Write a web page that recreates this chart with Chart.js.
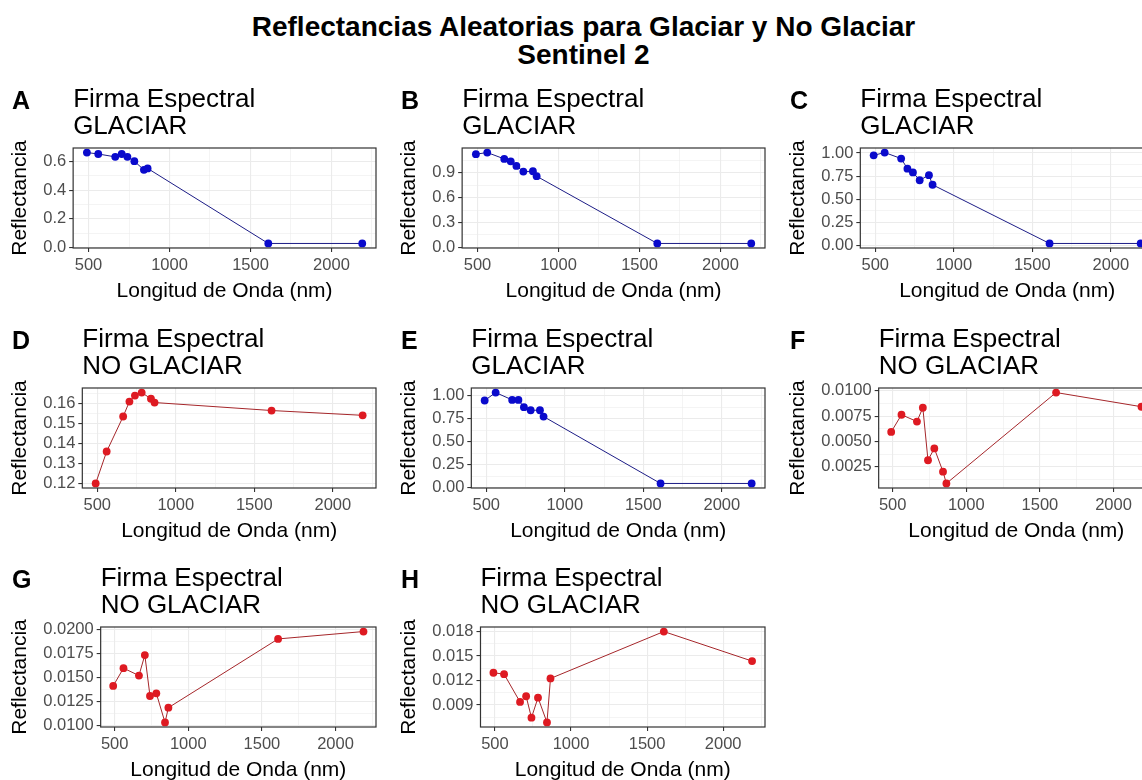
<!DOCTYPE html>
<html>
<head>
<meta charset="utf-8">
<title>Reflectancias Aleatorias</title>
<script src="https://cdn.jsdelivr.net/npm/chart.js@4.4.1/dist/chart.umd.min.js"></script>
<style>
    body { margin: 0; background: #fff; }
    #fig {
        position: relative; width: 1142px; height: 780px; overflow: hidden;
        background: #fff; font-family: "Liberation Sans", Arial, sans-serif;
    }
    #main-title {
        position: absolute; left: 0; top: 13px; width: 1167px;
        text-align: center; font-weight: bold; font-size: 28px; line-height: 28px; color: #000;
    }
    .cell { position: absolute; width: 389px; height: 240px; }
</style>
</head>
<body>
<div id="fig">
    <div id="main-title">Reflectancias Aleatorias para Glaciar y No Glaciar<br>Sentinel 2</div>
</div>
<script>
// Sentinel 2 band centres (nm)
var wavelengths = [490, 560, 665, 705, 740, 783, 842, 865, 1610, 2190];

// Reflectance of each random sample
var reflA = [0.66, 0.65, 0.63, 0.65, 0.63, 0.60, 0.54, 0.55, 0.03, 0.03];
var reflB = [1.127, 1.147, 1.07, 1.04, 0.985, 0.916, 0.92, 0.86, 0.045, 0.045];
var reflC = [0.975, 1.005, 0.94, 0.83, 0.79, 0.705, 0.76, 0.656, 0.02, 0.02];
var reflD = [0.12, 0.136, 0.1535, 0.161, 0.164, 0.1655, 0.1624, 0.1605, 0.1565, 0.1541];
var reflE = [0.949, 1.036, 0.956, 0.956, 0.876, 0.843, 0.843, 0.774, 0.044, 0.044];
var reflF = [0.00595, 0.00765, 0.00698, 0.00834, 0.00316, 0.00433, 0.00203, 0.00087, 0.00984, 0.00844];
var reflG = [0.01409, 0.01594, 0.01517, 0.01731, 0.01304, 0.01332, 0.01028, 0.01182, 0.01899, 0.01976];
var reflH = [0.01295, 0.01278, 0.00937, 0.01007, 0.00744, 0.0099, 0.00686, 0.01225, 0.018, 0.01438];

// Class of each sample
var classes = ['GLACIAR', 'GLACIAR', 'GLACIAR', 'NO GLACIAR', 'GLACIAR', 'NO GLACIAR', 'NO GLACIAR', 'NO GLACIAR'];
var tags = ['A', 'B', 'C', 'D', 'E', 'F', 'G', 'H'];

// Axis ticks
var xTicks = [500, 1000, 1500, 2000];
var xTickLabels = ['500', '1000', '1500', '2000'];

var yTicksA = [0, 0.2, 0.4, 0.6];
var yLabelsA = ['0.0', '0.2', '0.4', '0.6'];
var yTicksB = [0, 0.3, 0.6, 0.9];
var yLabelsB = ['0.0', '0.3', '0.6', '0.9'];
var yTicksC = [0, 0.25, 0.5, 0.75, 1];
var yLabelsC = ['0.00', '0.25', '0.50', '0.75', '1.00'];
var yTicksD = [0.12, 0.13, 0.14, 0.15, 0.16];
var yLabelsD = ['0.12', '0.13', '0.14', '0.15', '0.16'];
var yTicksE = [0, 0.25, 0.5, 0.75, 1];
var yLabelsE = ['0.00', '0.25', '0.50', '0.75', '1.00'];
var yTicksF = [0.0025, 0.005, 0.0075, 0.01];
var yLabelsF = ['0.0025', '0.0050', '0.0075', '0.0100'];
var yTicksG = [0.01, 0.0125, 0.015, 0.0175, 0.02];
var yLabelsG = ['0.0100', '0.0125', '0.0150', '0.0175', '0.0200'];
var yTicksH = [0.009, 0.012, 0.015, 0.018];
var yLabelsH = ['0.009', '0.012', '0.015', '0.018'];

var values = [reflA, reflB, reflC, reflD, reflE, reflF, reflG, reflH];
var yTicks = [yTicksA, yTicksB, yTicksC, yTicksD, yTicksE, yTicksF, yTicksG, yTicksH];
var yLabels = [yLabelsA, yLabelsB, yLabelsC, yLabelsD, yLabelsE, yLabelsF, yLabelsG, yLabelsH];

var styles = {
    'GLACIAR': { line: '#1c1c86', point: '#0a0acc' },
    'NO GLACIAR': { line: '#a5262a', point: '#de1a22' }
};

var FONT = '"Liberation Sans", Arial, sans-serif';

// ggplot-like 5% expansion
function expand(lo, hi) {
    var pad = (hi - lo) * 0.05;
    return [lo - pad, hi + pad];
}

// major ticks carry a label, minor ones (half way) only a grid line
function tickList(majors, labels, lo, hi) {
    var step = majors[1] - majors[0];
    var out = [];
    majors.forEach(function (v, i) {
        out.push({ value: v, lab: labels[i] });
    });
    var minors = [majors[0] - step / 2];
    majors.forEach(function (v) { minors.push(v + step / 2); });
    minors.forEach(function (v) { out.push({ value: v, lab: '' }); });
    out = out.filter(function (t) { return t.value >= lo && t.value <= hi; });
    out.sort(function (a, b) { return a.value - b.value; });
    return out;
}

// tag, two line title and the panel frame
var panelDecor = {
    id: 'panelDecor',
    afterDraw: function (chart, args, opts) {
        var ctx = chart.ctx;
        var area = chart.chartArea;
        ctx.save();
        ctx.strokeStyle = '#333333';
        ctx.lineWidth = 1.2;
        ctx.strokeRect(area.left, area.top, area.right - area.left, area.bottom - area.top);
        ctx.fillStyle = '#000';
        ctx.textBaseline = 'alphabetic';
        ctx.textAlign = 'left';
        ctx.font = 'bold 25px ' + FONT;
        ctx.fillText(opts.tag, 12, 39);
        ctx.font = '26px ' + FONT;
        ctx.fillText(opts.lines[0], area.left, 37);
        ctx.fillText(opts.lines[1], area.left, 64);
        ctx.restore();
    }
};

var fig = document.getElementById('fig');

for (var i = 0; i < values.length; i++) {
    var col = i % 3;
    var row = Math.floor(i / 3);
    var cell = document.createElement('div');
    cell.className = 'cell';
    cell.style.left = (col * 389) + 'px';
    cell.style.top = (70 + row * 239.5) + 'px';
    var canvas = document.createElement('canvas');
    canvas.width = 389;
    canvas.height = 240;
    cell.appendChild(canvas);
    fig.appendChild(cell);

    var vals = values[i];
    var yr = expand(Math.min.apply(null, vals), Math.max.apply(null, vals));
    var xr = expand(wavelengths[0], wavelengths[wavelengths.length - 1]);
    var style = styles[classes[i]];

    var points = wavelengths.map(function (w, k) {
        return { x: w, y: vals[k] };
    });

    (function (yT, yL, yr, xr) {
        new Chart(canvas.getContext('2d'), {
            type: 'line',
            data: {
                datasets: [{
                    data: points,
                    borderColor: style.line,
                    borderWidth: 1,
                    pointRadius: 3.9,
                    pointBackgroundColor: style.point,
                    pointBorderWidth: 0,
                    tension: 0
                }]
            },
            options: {
                responsive: false,
                animation: false,
                layout: { padding: { left: 8, right: 13, top: 78, bottom: 0 } },
                plugins: {
                    legend: { display: false },
                    tooltip: { enabled: false },
                    panelDecor: { tag: tags[i], lines: ['Firma Espectral', classes[i]] }
                },
                scales: {
                    x: {
                        type: 'linear',
                        min: xr[0],
                        max: xr[1],
                        afterBuildTicks: function (scale) {
                            scale.ticks = tickList(xTicks, xTickLabels, xr[0], xr[1]);
                        },
                        afterFit: function (scale) { scale.height = 62; },
                        border: { display: false },
                        grid: {
                            color: '#ebebeb',
                            lineWidth: function (c) { return c.tick && c.tick.lab ? 1.1 : 0.55; },
                            tickColor: function (c) { return c.tick && c.tick.lab ? '#333333' : 'rgba(0,0,0,0)'; },
                            tickLength: 4,
                            tickWidth: 1.1
                        },
                        ticks: {
                            autoSkip: false,
                            maxRotation: 0,
                            padding: 4,
                            color: '#4d4d4d',
                            font: { family: FONT, size: 16.5 },
                            callback: function (v, idx, ticks) { return ticks[idx].lab; }
                        },
                        title: {
                            display: true,
                            text: 'Longitud de Onda (nm)',
                            color: '#000',
                            font: { family: FONT, size: 21 },
                            padding: { top: 6, bottom: 6 }
                        }
                    },
                    y: {
                        type: 'linear',
                        min: yr[0],
                        max: yr[1],
                        afterBuildTicks: function (scale) {
                            scale.ticks = tickList(yT, yL, yr[0], yr[1]);
                        },
                        border: { display: false },
                        grid: {
                            color: '#ebebeb',
                            lineWidth: function (c) { return c.tick && c.tick.lab ? 1.1 : 0.55; },
                            tickColor: function (c) { return c.tick && c.tick.lab ? '#333333' : 'rgba(0,0,0,0)'; },
                            tickLength: 4,
                            tickWidth: 1.1
                        },
                        ticks: {
                            autoSkip: false,
                            padding: 3,
                            color: '#4d4d4d',
                            font: { family: FONT, size: 16.5 },
                            callback: function (v, idx, ticks) { return ticks[idx].lab; }
                        },
                        title: {
                            display: true,
                            text: 'Reflectancia',
                            color: '#000',
                            font: { family: FONT, size: 21 },
                            padding: { top: 0, bottom: 7 }
                        }
                    }
                }
            },
            plugins: [panelDecor]
        });
    })(yTicks[i], yLabels[i], yr, xr);
}
</script>
</body>
</html>
